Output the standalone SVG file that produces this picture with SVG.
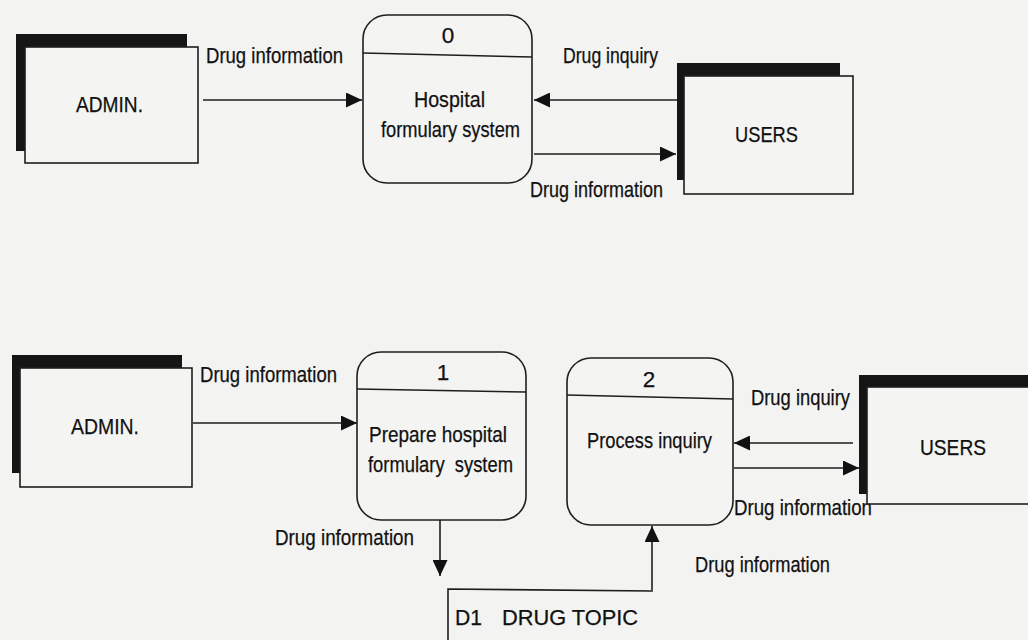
<svg xmlns="http://www.w3.org/2000/svg" width="1028" height="640" viewBox="0 0 1028 640">
<style>
  .bg { fill: #f3f3f1; }
  .shadow { fill: #151515; }
  .front { fill: #f4f4f2; stroke: #1e1e1e; stroke-width: 1.6; }
  .proc { fill: #f4f4f2; stroke: #1e1e1e; stroke-width: 1.6; }
  .div { stroke: #1e1e1e; stroke-width: 1.6; fill: none; }
  .flow { stroke: #1e1e1e; stroke-width: 1.6; fill: none; marker-end: url(#arrow); }
  .store { stroke: #1e1e1e; stroke-width: 1.6; fill: none; }
  text { font-family: "Liberation Sans", Arial, sans-serif; font-size: 22.5px; fill: #111; stroke: #111; stroke-width: 0.25; }
  .mid { text-anchor: middle; }
</style>
<defs>
  <marker id="arrow" markerUnits="userSpaceOnUse" markerWidth="17" markerHeight="15" refX="16" refY="7.5" orient="auto">
    <path d="M0,0 L16,7.5 L0,15 Z" fill="#111"/>
  </marker>
</defs>
<rect class="bg" x="0" y="0" width="1028" height="640"/>

<g id="connectors">
  <line class="flow" x1="203" y1="100" x2="362" y2="100"/>
  <line class="flow" x1="677" y1="100" x2="534" y2="100"/>
  <line class="flow" x1="534" y1="154" x2="676" y2="154"/>
  <line class="flow" x1="193" y1="423" x2="357" y2="423"/>
  <line class="flow" x1="853" y1="443" x2="734" y2="443"/>
  <line class="flow" x1="734" y1="468" x2="859" y2="468"/>
  <line class="flow" x1="440" y1="520" x2="440" y2="576"/>
  <line class="flow" x1="652" y1="590" x2="652" y2="526"/>
  <text x="206" y="63" textLength="137" lengthAdjust="spacingAndGlyphs">Drug information</text>
  <text x="563" y="63" textLength="95" lengthAdjust="spacingAndGlyphs">Drug inquiry</text>
  <text x="530" y="197" textLength="133" lengthAdjust="spacingAndGlyphs">Drug information</text>
  <text x="200" y="382" textLength="137" lengthAdjust="spacingAndGlyphs">Drug information</text>
  <text x="751" y="405" textLength="99" lengthAdjust="spacingAndGlyphs">Drug inquiry</text>
  <text x="734" y="515" textLength="138" lengthAdjust="spacingAndGlyphs">Drug information</text>
  <text x="275" y="545" textLength="139" lengthAdjust="spacingAndGlyphs">Drug information</text>
  <text x="695" y="572" textLength="135" lengthAdjust="spacingAndGlyphs">Drug information</text>
</g>

<g id="admin-top">
  <rect class="shadow" x="16" y="34" width="171" height="117"/>
  <rect class="front" x="25" y="47" width="173" height="116"/>
  <text x="76" y="112" textLength="67" lengthAdjust="spacingAndGlyphs">ADMIN.</text>
</g>

<g id="process-0">
  <rect class="proc" x="363" y="15" width="169" height="168" rx="24" ry="24"/>
  <line class="div" x1="363" y1="53" x2="532" y2="57"/>
  <text class="mid" x="448" y="43">0</text>
  <text x="414" y="107" textLength="71" lengthAdjust="spacingAndGlyphs">Hospital</text>
  <text x="381" y="137" textLength="139" lengthAdjust="spacingAndGlyphs">formulary system</text>
</g>

<g id="users-top">
  <rect class="shadow" x="677" y="63" width="163" height="117"/>
  <rect class="front" x="684" y="76" width="169" height="118"/>
  <text x="735" y="142" textLength="63" lengthAdjust="spacingAndGlyphs">USERS</text>
</g>

<g id="admin-bottom">
  <rect class="shadow" x="12" y="355" width="170" height="118"/>
  <rect class="front" x="20" y="368" width="172" height="119"/>
  <text x="71" y="434" textLength="68" lengthAdjust="spacingAndGlyphs">ADMIN.</text>
</g>

<g id="process-1">
  <rect class="proc" x="357" y="352" width="169" height="168" rx="24" ry="24"/>
  <line class="div" x1="357" y1="389" x2="526" y2="392"/>
  <text class="mid" x="443" y="380">1</text>
  <text x="369" y="442" textLength="138" lengthAdjust="spacingAndGlyphs">Prepare hospital</text>
  <text x="368" y="472" textLength="145" lengthAdjust="spacingAndGlyphs" xml:space="preserve">formulary  system</text>
</g>

<g id="process-2">
  <rect class="proc" x="567" y="358" width="166" height="167" rx="24" ry="24"/>
  <line class="div" x1="567" y1="395" x2="733" y2="399"/>
  <text class="mid" x="649" y="387">2</text>
  <text x="587" y="448" textLength="125" lengthAdjust="spacingAndGlyphs">Process inquiry</text>
</g>

<g id="users-bottom">
  <rect class="shadow" x="859" y="375" width="190" height="119"/>
  <rect class="front" x="867" y="387" width="190" height="117"/>
  <text x="920" y="455" textLength="66" lengthAdjust="spacingAndGlyphs">USERS</text>
</g>

<g id="d1-drug-topic">
  <polyline class="store" points="448,641 448,589 653,591"/>
  <text x="455" y="625" textLength="27" lengthAdjust="spacingAndGlyphs">D1</text>
  <text x="502" y="625" textLength="136" lengthAdjust="spacingAndGlyphs">DRUG TOPIC</text>
</g>
</svg>
